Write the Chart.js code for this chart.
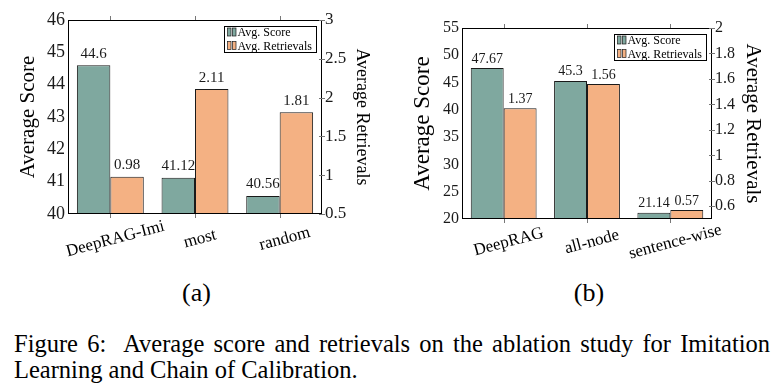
<!DOCTYPE html>
<html>
<head>
<meta charset="utf-8">
<script src="https://cdn.jsdelivr.net/npm/chart.js@4.4.0/dist/chart.umd.min.js"></script>
<style>
  html, body { margin: 0; padding: 0; background: #fff; }
  body { width: 783px; height: 392px; position: relative; overflow: hidden;
         font-family: 'Liberation Serif', 'Times New Roman', serif; color: #000; }
  canvas { position: absolute; top: 0; }
  #chartA { left: 0; }
  #chartB { left: 390px; }
  .sub { position: absolute; top: 293px; font-size: 26px; line-height: 1;
         transform: translate(-50%, -50%); }
  .caption { position: absolute; left: 14px; top: 331px; width: 756px;
             font-size: 24.5px; line-height: 26px; }
  .line1 { text-align: justify; text-align-last: justify; white-space: nowrap; }
</style>
</head>
<body>
<canvas id="chartA" width="390" height="265"></canvas>
<canvas id="chartB" width="393" height="265"></canvas>
<div class="sub" style="left:196.5px">(a)</div>
<div class="sub" style="left:589px">(b)</div>
<div class="caption">
  <div class="line1">Figure 6:&nbsp; Average score and retrievals on the ablation study for Imitation</div>
  <div>Learning and Chain of Calibration.</div>
</div>
<script>
// (a) Imitation Learning ablation
const labelsA = ['DeepRAG-Imi', 'most', 'random'];
const scoreA = [44.6, 41.12, 40.56];
const retrA = [0.98, 2.11, 1.81];
const scoreTicksA = [40, 41, 42, 43, 44, 45, 46];
const retrTicksA = [0.5, 1, 1.5, 2, 2.5, 3];

// (b) Chain of Calibration ablation
const labelsB = ['DeepRAG', 'all-node', 'sentence-wise'];
const scoreB = [47.67, 45.3, 21.14];
const retrB = [1.37, 1.56, 0.57];
const scoreTicksB = [20, 25, 30, 35, 40, 45, 50, 55];
const retrTicksB = [0.6, 0.8, 1, 1.2, 1.4, 1.6, 1.8, 2];

const seriesNames = ['Avg. Score', 'Avg. Retrievals'];

const FONT = "'Liberation Serif', 'Times New Roman', serif";
const GREEN = '#7fa89f';
const ORANGE = '#f4b183';
const EDGE = '#1a1a1a';

const figPlugin = {
  id: 'fig',
  beforeDatasetsDraw(chart, args, opts) {
    // values go under the bars so the neighbour bar hides overlapping digits
    const ctx = chart.ctx;
    ctx.save();
    ctx.font = opts.valueSize + 'px ' + FONT;
    ctx.fillStyle = '#1a1a1a';
    ctx.textAlign = 'center';
    ctx.textBaseline = 'alphabetic';
    chart.data.datasets.forEach((ds, i) => {
      chart.getDatasetMeta(i).data.forEach((bar, j) => {
        ctx.fillText(String(ds.data[j]), bar.x, bar.y - opts.valueGap);
      });
    });
    ctx.restore();
  },
  afterDatasetsDraw(chart) {
    const { ctx, chartArea: a, scales } = chart;
    ctx.save();
    ctx.strokeStyle = '#000';
    ctx.lineWidth = 1;
    ctx.strokeRect(a.left + 0.5, a.top + 0.5, a.width - 1, a.height - 1);
    ctx.strokeStyle = '#777';
    ctx.beginPath();
    scales.x.ticks.forEach((t, i) => {
      const px = Math.round(scales.x.getPixelForTick(i)) + 0.5;
      ctx.moveTo(px, a.top - 4); ctx.lineTo(px, a.top);
      ctx.moveTo(px, a.bottom); ctx.lineTo(px, a.bottom + 4);
    });
    scales.y1.ticks.forEach(t => {
      const py = Math.round(scales.y1.getPixelForValue(t.value)) + 0.5;
      ctx.moveTo(a.right - 3, py); ctx.lineTo(a.right + 3, py);
    });
    ctx.stroke();
    ctx.restore();
  },
  afterDraw(chart, args, opts) {
    const { ctx, chartArea: a, scales } = chart;
    ctx.save();
    // rotated category names
    ctx.font = opts.catSize + 'px ' + FONT;
    ctx.fillStyle = '#000';
    ctx.textAlign = 'center';
    ctx.textBaseline = 'middle';
    chart.data.labels.forEach((lab, i) => {
      const px = scales.x.getPixelForTick(i);
      ctx.save();
      ctx.translate(px + opts.catDx, a.bottom + opts.catDy);
      ctx.rotate(-15 * Math.PI / 180);
      ctx.fillText(lab, 0, 0);
      ctx.restore();
    });
    // boxed legend in the top right corner
    const W = 93, H = 27;
    const lx = Math.round(a.right - 5 - W), ly = Math.round(a.top + 6);
    ctx.fillStyle = '#fff';
    ctx.fillRect(lx, ly, W, H);
    ctx.strokeStyle = '#000';
    ctx.strokeRect(lx + 0.5, ly + 0.5, W - 1, H - 1);
    ctx.font = '12px ' + FONT;
    ctx.textAlign = 'left';
    ctx.textBaseline = 'alphabetic';
    chart.data.datasets.forEach((ds, i) => {
      const base = ly + 10 + i * 13.5;
      for (let k = 0; k < 2; k++) {
        ctx.fillStyle = ds.backgroundColor;
        ctx.fillRect(lx + 3.5 + k * 5, base - 8, 3.5, 8);
        ctx.strokeStyle = EDGE;
        ctx.lineWidth = 0.7;
        ctx.strokeRect(lx + 3.5 + k * 5, base - 8, 3.5, 8);
      }
      ctx.fillStyle = '#000';
      ctx.fillText(ds.label, lx + 13.5, base);
    });
    ctx.restore();
  }
};

function valueAxis(pos, tickList, min, max, title, c) {
  const left = pos === 'left';
  return {
    type: 'linear',
    position: pos,
    min: min,
    max: max,
    grid: { display: false, drawTicks: false },
    border: { display: false },
    afterBuildTicks: s => { s.ticks = tickList.map(v => ({ value: v })); },
    afterFit: s => { s.width = left ? c.leftW : c.rightW; },
    ticks: {
      font: { family: FONT, size: left ? c.leftTick : c.rightTick },
      color: '#1a1a1a',
      padding: 3,
      autoSkip: false,
      callback: v => String(v)
    },
    title: {
      display: true,
      text: title,
      color: '#000',
      font: { family: FONT, size: left ? c.leftTitle : c.rightTitle },
      padding: { top: left ? c.leftTitlePad : c.rightTitlePad, bottom: 0 }
    }
  };
}

function makeChart(id, labels, score, retr, c) {
  return new Chart(document.getElementById(id), {
    type: 'bar',
    data: {
      labels: labels,
      datasets: [
        { label: seriesNames[0], data: score, yAxisID: 'y', backgroundColor: GREEN,
          borderColor: EDGE, borderWidth: 1, borderSkipped: false,
          categoryPercentage: 0.79, barPercentage: 1 },
        { label: seriesNames[1], data: retr, yAxisID: 'y1', backgroundColor: ORANGE,
          borderColor: EDGE, borderWidth: 1, borderSkipped: false,
          categoryPercentage: 0.79, barPercentage: 1 }
      ]
    },
    options: {
      responsive: false,
      animation: false,
      layout: { padding: { top: c.top, left: 0, right: 0, bottom: 0 } },
      plugins: {
        legend: { display: false },
        tooltip: { enabled: false },
        fig: c
      },
      scales: {
        x: {
          type: 'category',
          offset: true,
          grid: { display: false, drawTicks: false },
          border: { display: false },
          ticks: { display: false },
          afterFit: s => { s.height = c.xH; }
        },
        y: valueAxis('left', c.scoreTicks, c.scoreMin, c.scoreMax, 'Average Score', c),
        y1: valueAxis('right', c.retrTicks, c.retrMin, c.retrMax, 'Average Retrievals', c)
      }
    },
    plugins: [figPlugin]
  });
}

makeChart('chartA', labelsA, scoreA, retrA, {
  scoreTicks: scoreTicksA, retrTicks: retrTicksA,
  scoreMin: 40, scoreMax: 46, retrMin: 0.5, retrMax: 3,
  top: 20, xH: 51, leftW: 68, rightW: 68,
  leftTick: 18, rightTick: 17,
  leftTitle: 21, leftTitlePad: 15.4, rightTitle: 18, rightTitlePad: 17.2,
  valueSize: 15, valueGap: 7.5,
  catSize: 17, catDx: 5, catDy: 25
});

makeChart('chartB', labelsB, scoreB, retrB, {
  scoreTicks: scoreTicksB, retrTicks: retrTicksB,
  scoreMin: 20, scoreMax: 55, retrMin: 0.5, retrMax: 2,
  top: 28, xH: 46, leftW: 72, rightW: 71,
  leftTick: 16, rightTick: 16,
  leftTitle: 23, leftTitlePad: 19.2, rightTitle: 21, rightTitlePad: 17.4,
  valueSize: 14, valueGap: 5.5,
  catSize: 17, catDx: 5, catDy: 23
});
</script>
</body>
</html>
